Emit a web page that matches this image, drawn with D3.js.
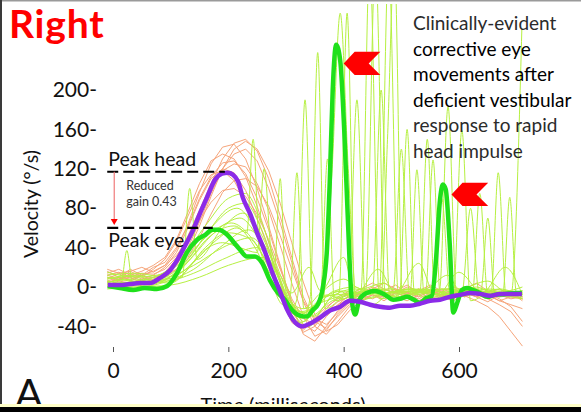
<!DOCTYPE html>
<html><head><meta charset="utf-8">
<script src="https://cdn.jsdelivr.net/npm/d3@7"></script>
<style>
html,body{margin:0;padding:0;background:#fff;}
svg{display:block;font-family:Lato,"Open Sans",sans-serif;}
</style></head><body>
<svg id="chart" width="581" height="412"></svg>
<script>
// ---------- data ----------
const xTicks = [0, 200, 400, 600];
const yTicks = [-40, 0, 40, 80, 120, 160, 200];

// mean head velocity (purple)
const headTime = [-9,12,29,47,64,81,99,111,125,139,151,163,177,189,199,208,217,225,238,250,264,276,290,302,316,328,342,359,376,394,411,428,446,463,480,498,515,532,550,567,584,602,619,636,654,671,688,709];
const headVel  = [2,2,3,4,4,9,17,27,42,58,75,91,109,115,116,114,107,91,74,55,35,15,-5,-23,-36,-40,-37,-31,-24,-20,-14,-15,-18,-20,-21,-19,-19,-17,-14,-13,-10,-8,-6,-7,-9,-7,-7,-7];

// mean eye velocity (bright green)
const eyeTime = [-9,12,35,55,76,94,111,128,146,160,172,182,198,210,220,232,246,258,272,286,298,310,324,336,347,355,364,371,376,381,387,394,401,407,414,420,427,440,454,472,486,498,510,522,532,544,553,560,567,572,577,584,590,597,605,614,624,636,649,662,680,697,709];
const eyeVel  = [1,-1,-3,-1,-2,1,14,35,48,53,58,58,53,45,38,31,31,25,7,-6,-13,-23,-29,-30,-23,-18,0,38,109,200,246,230,159,73,-13,-28,-13,-6,-4,-8,-13,-12,-10,-13,-16,-11,-9,27,88,104,99,43,-26,-16,-3,-1,-3,-6,-10,-8,-7,-6,-6];

// individual head traces (orange), sampled every 20 ms
const headTraceTime = [-10,10,30,50,70,90,110,130,150,170,190,210,230,250,270,290,310,330,350,370,390,410,430,450,470,490,510,530,550,570,590,610,630,650,670,690,710];
const headTraces = [
  [12,15,10,14,13,18,30,52,78,105,130,146,150,138,110,72,30,-10,-35,-42,-30,-18,-10,-5,-8,-2,-6,-10,-4,-8,-12,-6,-10,-15,-8,-12,-10],
  [5,8,12,6,10,14,22,40,66,95,120,135,140,128,100,65,25,-15,-40,-48,-35,-20,-12,-8,-14,-6,-10,-4,-12,-8,-5,-9,-14,-20,-30,-45,-60],
  [16,10,18,12,20,25,40,62,90,112,126,128,115,90,58,20,-15,-38,-45,-30,-18,-12,-6,-2,-8,-4,2,-6,-3,-8,-4,-10,-6,-4,-8,-10,-12],
  [2,6,4,8,12,20,35,60,88,110,120,116,98,70,38,5,-25,-42,-36,-22,-10,-4,-8,-2,4,-2,-8,-5,0,-6,-10,-4,-2,-8,-14,-10,-8],
  [8,14,6,12,16,22,38,64,96,125,142,145,130,100,62,22,-18,-48,-55,-40,-24,-14,-8,-12,-6,-10,-14,-8,-4,-10,-6,-2,-8,-12,-6,-4,-10],
  [10,6,14,8,10,12,18,30,50,74,96,108,110,102,82,52,18,-14,-32,-38,-26,-14,-6,0,-4,2,-6,-2,-8,-4,0,-5,-10,-6,-12,-20,-35],
  [14,18,12,16,22,30,48,76,105,128,135,130,112,82,45,8,-28,-46,-40,-25,-15,-10,-14,-8,-12,-6,-10,-14,-8,-2,-6,-10,-4,-8,-14,-18,-22],
  [4,8,10,4,8,15,28,48,74,100,118,125,122,105,78,42,4,-30,-50,-44,-28,-16,-10,-4,-8,-12,-6,-2,-6,-10,-8,-4,-10,-6,-2,-8,-12],
  [18,14,16,20,15,22,32,48,68,86,98,100,92,74,48,18,-12,-32,-38,-28,-18,-8,-2,4,-2,-6,0,-4,2,-4,-8,-2,4,-4,-8,-6,-14],
  [6,10,8,12,6,10,18,36,62,92,120,140,148,140,118,85,45,5,-28,-45,-38,-24,-14,-8,-10,-4,-8,-12,-6,-10,-14,-8,-6,-12,-18,-25,-40],
  [12,8,16,10,18,28,46,72,98,114,118,108,86,56,22,-10,-36,-44,-32,-20,-12,-6,-10,-4,-8,-2,-6,-10,-4,-8,-12,-6,-2,-8,-10,-6,-12]
];

// individual eye traces (light green), [time, velocity]
const eyeTraces = [
  [[-10,4],[20,8],[50,3],[80,6],[110,14],[140,32],[170,52],[200,66],[220,70],[245,56],[270,24],[295,-12],[320,-28],[345,-22],[365,-8],[380,120],[394,278],[408,120],[422,-12],[450,-18],[480,-6],[520,-2],[555,-8],[570,90],[585,-10],[620,-4],[660,-8],[710,-6]],
  [[-10,0],[30,5],[60,2],[95,9],[130,26],[165,50],[210,62],[240,46],[270,12],[295,-18],[307,-10],[319,116],[331,-22],[360,-16],[400,-8],[430,-4],[445,330],[462,-12],[500,-6],[540,-2],[590,-8],[605,159],[620,-14],[660,-4],[710,-10]],
  [[-10,8],[40,11],[80,5],[120,22],[160,52],[200,80],[230,85],[255,62],[285,14],[308,-24],[320,-10],[333,190],[347,-30],[380,-10],[420,-2],[465,-8],[476,150],[488,330],[502,-12],[540,-4],[580,-2],[620,-6],[656,-4],[668,116],[682,-10],[710,-6]],
  [[-10,2],[14,4],[24,37],[34,3],[80,0],[120,12],[160,40],[200,55],[240,48],[270,20],[300,-16],[330,-32],[342,-10],[355,238],[368,-22],[400,-10],[440,-4],[480,-2],[515,-8],[527,119],[540,-10],[580,-4],[623,-8],[636,95],[650,-8],[710,-4]],
  [[-10,6],[40,2],[90,8],[120,10],[133,100],[146,28],[190,60],[225,75],[260,50],[290,4],[320,-30],[345,-26],[370,-10],[392,-6],[406,278],[420,-15],[460,-8],[500,-4],[542,-6],[555,129],[568,-12],[600,-6],[640,-2],[676,-6],[688,91],[700,-8],[710,-6]],
  [[-10,0],[50,6],[100,4],[140,25],[180,48],[215,60],[232,55],[243,150],[254,40],[290,0],[315,-20],[340,-28],[365,-10],[408,-6],[423,190],[438,-12],[480,-6],[520,-2],[566,-4],[581,183],[596,-10],[640,-4],[690,-8],[709,262]],
  [[-10,10],[40,6],[80,12],[120,30],[160,62],[200,90],[230,95],[255,70],[285,20],[310,-15],[330,-35],[355,-20],[380,-5],[420,0],[438,-4],[455,330],[472,-6],[510,-2],[560,-8],[605,-6],[620,80],[635,-6],[670,-2],[710,-10]],
  [[-10,3],[40,0],[90,5],[130,20],[160,38],[190,45],[220,40],[250,35],[262,120],[275,30],[300,-12],[330,-26],[360,-12],[400,-4],[440,-8],[462,-4],[478,330],[495,-10],[530,-6],[575,-2],[620,-6],[638,-4],[650,70],[662,-8],[710,-4]],
  [[-10,12],[40,14],[90,10],[140,22],[190,40],[240,50],[270,30],[280,20],[290,110],[300,-5],[325,-25],[350,-20],[360,-8],[372,130],[384,-14],[420,-8],[460,-2],[497,-6],[510,160],[523,-8],[560,-4],[600,-10],[650,-2],[710,-8]],
  [[-10,5],[40,8],[90,6],[140,14],[190,28],[250,40],[280,18],[310,-20],[340,-30],[380,-14],[420,-6],[450,-2],[465,200],[480,-10],[520,-4],[532,-6],[545,150],[558,-8],[600,-2],[650,-6],[710,-12]],
  [[-10,15],[40,10],[90,14],[130,32],[170,55],[205,65],[240,50],[270,22],[300,-10],[330,-22],[360,-6],[400,8],[430,-2],[470,4],[486,-2],[500,140],[514,-6],[550,0],[580,12],[600,-2],[650,6],[680,-4],[710,0]],
  [[-10,-2],[40,0],[100,2],[150,10],[200,22],[260,30],[290,12],[310,-6],[340,20],[360,-4],[400,30],[420,-8],[460,18],[490,-6],[530,24],[560,-10],[600,15],[640,-6],[680,20],[710,-8]],
  [[-10,6],[40,4],[90,10],[130,28],[170,60],[215,80],[245,60],[275,18],[300,-20],[325,-36],[350,-24],[370,-8],[400,-12],[430,-2],[470,-8],[510,-4],[550,-12],[590,-6],[630,0],[670,-10],[710,-4]],
  [[-10,9],[40,12],[90,8],[140,18],[185,40],[235,58],[265,40],[290,8],[315,-28],[340,-40],[365,-20],[390,-4],[420,-10],[455,-2],[495,-10],[535,-4],[570,-8],[610,-2],[645,-10],[680,-6],[710,-12]]
];

// annotations
const peakHead = 117, peakEye = 60;
const peakLineStart = -10, peakHeadEnd = 194, peakEyeEnd = 173;
const calloutTime = [400, 587];
const calloutVel  = [227, 94];
const noteLines = ["Clinically-evident","corrective eye","movements after","deficient vestibular","response to rapid","head impulse"];

// ---------- drawing ----------
const svg = d3.select("#chart");
const x = d3.scaleLinear().domain([0, 600]).range([113, 459]);
const y = d3.scaleLinear().domain([0, 200]).range([287, 90]);

svg.append("defs").append("clipPath").attr("id","plotclip")
  .append("rect").attr("x",0).attr("y",4).attr("width",581).attr("height",400);

const plot = svg.append("g").attr("clip-path","url(#plotclip)");

const lineLin = d3.line().x(d=>x(d[0])).y(d=>y(d[1]));
const lineSmooth = d3.line().x(d=>x(d[0])).y(d=>y(d[1])).curve(d3.curveMonotoneX);

// orange head traces
plot.append("g").selectAll("path").data(headTraces).join("path")
  .attr("d", vals => lineLin(vals.map((v,i)=>[headTraceTime[i], v])))
  .attr("fill","none").attr("stroke","#f6a57b").attr("stroke-width",1);

// light green eye traces
plot.append("g").selectAll("path").data(eyeTraces).join("path")
  .attr("d", pts => lineSmooth(pts))
  .attr("fill","none").attr("stroke","#b6f041").attr("stroke-width",1);

// mean eye (thick green)
plot.append("path")
  .attr("d", lineSmooth(eyeTime.map((t,i)=>[t, eyeVel[i]])))
  .attr("fill","none").attr("stroke","#1fe01b").attr("stroke-width",4.5)
  .attr("stroke-linejoin","round");

// mean head (purple)
plot.append("path")
  .attr("d", lineSmooth(headTime.map((t,i)=>[t, headVel[i]])))
  .attr("fill","none").attr("stroke","#8b2be8").attr("stroke-width",4.5)
  .attr("stroke-linejoin","round");

// y axis (labels with hyphen)
const yAxis = d3.axisLeft(y).tickValues(yTicks).tickSize(0).tickPadding(0).tickFormat(d => d + "-");
const gy = svg.append("g").attr("transform","translate(97,0)").call(yAxis);
gy.select(".domain").remove();
gy.selectAll("text").attr("font-family","Lato, sans-serif").attr("font-size",21).attr("fill","#111");

// x axis
const xAxis = d3.axisBottom(x).tickValues(xTicks).tickSize(5).tickPadding(11);
const gx = svg.append("g").attr("transform","translate(0,347)").call(xAxis);
gx.select(".domain").remove();
gx.selectAll("line").attr("stroke","#555");
gx.selectAll("text").attr("font-family","Lato, sans-serif").attr("font-size",21).attr("fill","#111");

// axis titles
svg.append("text").attr("x",283).attr("y",412).attr("text-anchor","middle")
  .attr("font-size",20).attr("fill","#111").text("Time (milliseconds)");
svg.append("text").attr("transform","translate(38,204) rotate(-90)").attr("text-anchor","middle")
  .attr("font-size",19.5).attr("fill","#111").text("Velocity (°/s)");

// title
svg.append("text").attr("x",9).attr("y",38).attr("font-size",39).attr("font-weight",700)
  .attr("letter-spacing",0.8).attr("fill","#f00").text("Right");

// panel letter
svg.append("text").attr("x",15).attr("y",408).attr("font-size",41).attr("fill","#111").text("A");

// peak lines
svg.append("line").attr("x1",x(peakLineStart)).attr("x2",x(peakHeadEnd)).attr("y1",y(peakHead)).attr("y2",y(peakHead))
  .attr("stroke","#000").attr("stroke-width",2.2).attr("stroke-dasharray","11,5");
svg.append("line").attr("x1",x(peakLineStart)).attr("x2",x(peakEyeEnd)).attr("y1",y(peakEye)).attr("y2",y(peakEye))
  .attr("stroke","#000").attr("stroke-width",2.2).attr("stroke-dasharray","11,5");
svg.append("text").attr("x",x(peakLineStart)+1).attr("y",y(peakHead)-6).attr("font-size",19.5).attr("fill","#111").text("Peak head");
svg.append("text").attr("x",x(peakLineStart)+1).attr("y",y(peakEye)+19).attr("font-size",19.5).attr("fill","#111").text("Peak eye");

// gain arrow
const ax = x(peakLineStart) + 7;
svg.append("line").attr("x1",ax).attr("x2",ax).attr("y1",y(peakHead)).attr("y2",y(peakEye)-7)
  .attr("stroke","#f07a7a").attr("stroke-width",1.2);
svg.append("path").attr("d",`M${ax-3.5},${y(peakEye)-9}L${ax+3.5},${y(peakEye)-9}L${ax},${y(peakEye)-3}Z`).attr("fill","#f00");
svg.append("text").attr("x",ax+12).attr("y",190).attr("font-size",12.5).attr("fill","#333").text("Reduced");
svg.append("text").attr("x",ax+12).attr("y",206).attr("font-size",12.5).attr("fill","#333").text("gain 0.43");

// red callout chevrons
const chevron = "M0,0L11,-11.7L36.7,-11.7L25,0L36.7,11.7L11,11.7Z";
svg.append("g").selectAll("path").data(calloutTime).join("path")
  .attr("transform",(t,i)=>`translate(${x(t)},${y(calloutVel[i])})`)
  .attr("d",chevron).attr("fill","#f00");

// note text
const note = svg.append("text").attr("font-size",19).attr("fill","#222");
noteLines.forEach((s,i)=>{
  note.append("tspan").attr("x",413).attr("y",30 + i*25.5)
    .attr("fill", (i>=1 && i<=3) ? "#000" : "#2b2b2b").text(s);
});

// frame
svg.append("rect").attr("x",0).attr("y",0).attr("width",581).attr("height",1.5).attr("fill","#9a9a9a");
svg.append("rect").attr("x",0).attr("y",0).attr("width",2).attr("height",412).attr("fill","#3a3a3a");
svg.append("rect").attr("x",0).attr("y",404).attr("width",581).attr("height",3).attr("fill","#ffffc8");
svg.append("rect").attr("x",0).attr("y",407).attr("width",581).attr("height",5).attr("fill","#000");
</script>
</body></html>
